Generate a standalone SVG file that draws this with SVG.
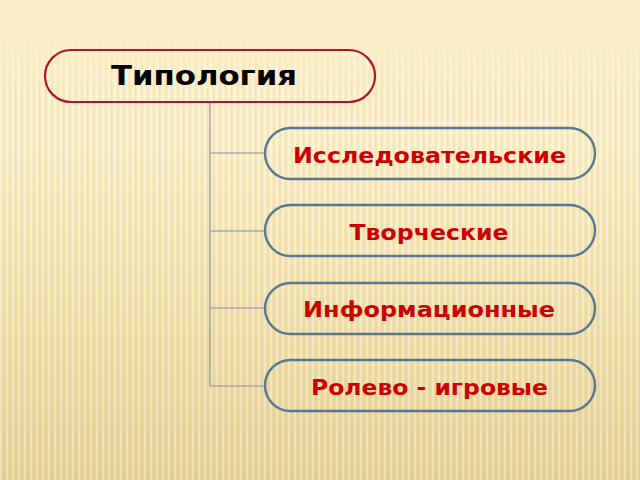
<svg xmlns="http://www.w3.org/2000/svg" width="640" height="480" viewBox="0 0 640 480">
<defs>
<linearGradient id="bg" x1="0" y1="0" x2="0" y2="1">
<stop offset="0" stop-color="#fdf0c9"/>
<stop offset="0.3" stop-color="#fbeec4"/>
<stop offset="0.6" stop-color="#f3e2ae"/>
<stop offset="1" stop-color="#e6d096"/>
</linearGradient>
<pattern id="stripes" width="6" height="10" patternUnits="userSpaceOnUse">
<rect x="0" y="0" width="2" height="10" fill="#ffffff" opacity="0.3"/>
<rect x="3" y="0" width="1.5" height="10" fill="#d9c080" opacity="0.2"/>
</pattern>
<linearGradient id="fade" x1="0" y1="0" x2="0" y2="1">
<stop offset="0" stop-color="#000"/>
<stop offset="0.06" stop-color="#000"/>
<stop offset="0.2" stop-color="#fff"/>
<stop offset="1" stop-color="#fff"/>
</linearGradient>
<mask id="m"><rect width="640" height="480" fill="url(#fade)"/></mask>
<style>
.top{fill:none;stroke:#b5122c;stroke-width:2.2}
.child{fill:none;stroke:#587a92;stroke-width:2.4}
.t1{font-family:"DejaVu Sans",Verdana,sans-serif;font-weight:bold;font-size:26px;fill:#000;text-anchor:middle}
.t2{font-family:"DejaVu Sans",Verdana,sans-serif;font-weight:bold;font-size:22px;fill:#cc0000;text-anchor:middle}
.conn{fill:none;stroke:#8c8cab;stroke-width:1.2}
</style>
</defs>
<rect width="640" height="480" fill="url(#bg)"/>
<rect width="640" height="480" fill="url(#stripes)" mask="url(#m)"/>
<g id="connectors">
<path class="conn" d="M210 102 V386 M210 153 H266 M210 231 H266 M210 308 H266 M210 386 H266"/>
</g>
<g id="n-top">
<rect class="top" x="45" y="50" width="330" height="52" rx="26"/>
<text class="t1" x="204" y="85" textLength="186" lengthAdjust="spacingAndGlyphs">Типология</text>
</g>
<g id="n1">
<rect class="child" x="265" y="128" width="330" height="51" rx="25.5"/>
<text class="t2" x="429.5" y="163" textLength="273" lengthAdjust="spacingAndGlyphs">Исследовательские</text>
</g>
<g id="n2">
<rect class="child" x="265" y="205" width="330" height="51" rx="25.5"/>
<text class="t2" x="429" y="240" textLength="159" lengthAdjust="spacingAndGlyphs">Творческие</text>
</g>
<g id="n3">
<rect class="child" x="265" y="283" width="330" height="51" rx="25.5"/>
<text class="t2" x="429" y="317" textLength="252" lengthAdjust="spacingAndGlyphs">Информационные</text>
</g>
<g id="n4">
<rect class="child" x="265" y="360" width="330" height="51" rx="25.5"/>
<text class="t2" x="429.5" y="395" textLength="237" lengthAdjust="spacingAndGlyphs">Ролево - игровые</text>
</g>
</svg>
